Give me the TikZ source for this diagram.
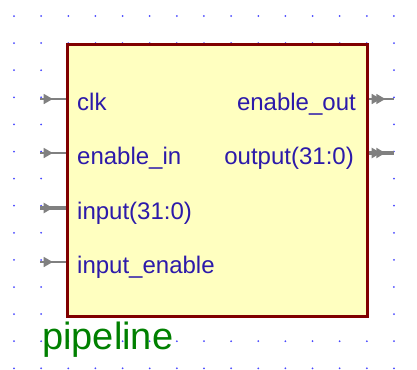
\documentclass[tikz,border=0pt]{standalone}
\usepackage{fontspec}
\setmainfont{Liberation Sans}
\usetikzlibrary{decorations.markings,arrows.meta}
\definecolor{sigblue}{RGB}{44,26,170}
\definecolor{dotblue}{RGB}{70,70,255}
\definecolor{boxred}{RGB}{128,0,0}
\definecolor{boxfill}{RGB}{255,255,192}
\definecolor{pingray}{RGB}{128,128,128}
\definecolor{namegreen}{RGB}{0,128,0}

\tikzset{
  pinin/.style={draw=pingray,line width=1.5bp,postaction={decorate},
    decoration={markings,mark=at position 0.48 with {\arrow[pingray]{Triangle[length=9bp,width=10bp]}}}},
  pinout/.style={pinin,decoration={markings,mark=at position 0.66 with {\arrow[pingray]{Triangle[length=9bp,width=10bp]}}}},
  bus/.style={line width=3.5bp},
  lbl/.style={text=sigblue,inner sep=0pt,font=\fontsize{24bp}{28bp}\selectfont}
}

\begin{document}
\begin{tikzpicture}[x=1bp,y=-1bp]
  \useasboundingbox (0,0) rectangle (417,370);
  % grid dots
  \foreach \i in {0,...,14}
    \foreach \j in {0,...,13}
      \fill[dotblue] (14+27.14*\i,16+27.1*\j) circle (1);
  % block
  \node[draw=boxred,fill=boxfill,line width=3bp,minimum width=299bp,minimum height=272bp,inner sep=0pt] (pipe) at (217.5,180) {};
  % input pins
  \coordinate (clkin) at (40,99);
  \coordinate (enin) at (40,153);
  \coordinate (datain) at (40,208);
  \coordinate (inenin) at (40,262);
  \draw[pinin] (clkin) -- (clkin -| pipe.west);
  \draw[pinin] (enin) -- (enin -| pipe.west);
  \draw[pinin,bus] (datain) -- (datain -| pipe.west);
  \draw[pinin] (inenin) -- (inenin -| pipe.west);
  % output pins
  \coordinate (enout) at (394,99);
  \coordinate (dataout) at (394,153);
  \draw[pinout] (enout -| pipe.east) -- (enout);
  \draw[pinout,bus] (dataout -| pipe.east) -- (dataout);
  % labels
  \node[lbl,anchor=base west] (clklbl) at (77,110) {clk};
  \node[lbl,anchor=base west] (enlbl) at (77,164) {enable\_in};
  \node[lbl,anchor=base west] (datalbl) at (77,219) {input(31:0)};
  \node[lbl,anchor=base west] (inenlbl) at (77,273) {input\_enable};
  \node[lbl,anchor=base east] (enoutlbl) at (356,110) {enable\_out};
  \node[lbl,anchor=base east] (dataoutlbl) at (354,164) {output(31:0)};
  \node[text=namegreen,inner sep=0pt,anchor=base west,font=\fontsize{38bp}{44bp}\selectfont] (name) at (42,349) {pipeline};
\end{tikzpicture}
\end{document}
